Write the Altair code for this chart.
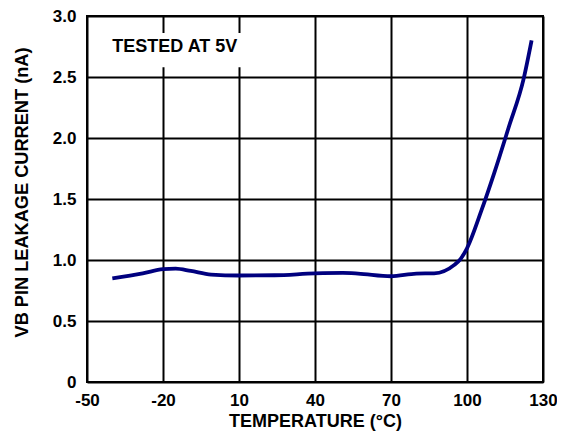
import altair as alt
import pandas as pd

temperature = [-40, -28, -20, -15, -9, -1, 10, 24, 40, 51, 57, 70, 80, 87, 95, 97.5, 100, 105.7, 110.8, 116.5, 122.3, 125.5]
leakage = [0.85, 0.89, 0.925, 0.93, 0.91, 0.88, 0.873, 0.875, 0.89, 0.894, 0.889, 0.867, 0.889, 0.891, 0.96, 1.01, 1.096, 1.406, 1.716, 2.09, 2.48, 2.8]

x_ticks = [-50, -20, 10, 40, 70, 100, 130]
y_ticks = [0, 0.5, 1.0, 1.5, 2.0, 2.5, 3.0]

note_text = ["TESTED AT 5V"]
note_x = [-40]
note_y = [2.75]
box_x = [-42]
box_x2 = [13]
box_y = [2.58]
box_y2 = [2.86]

FONT = "Liberation Sans"

df = pd.DataFrame({"t": temperature, "i": leakage})
note_df = pd.DataFrame({"label": note_text, "x": note_x, "y": note_y})
box_df = pd.DataFrame({"x": box_x, "x2": box_x2, "y": box_y, "y2": box_y2})

xscale = alt.Scale(domain=[-50, 130], nice=False)
yscale = alt.Scale(domain=[0, 3], nice=False)

x_axis = alt.Axis(values=x_ticks, title="TEMPERATURE (°C)", ticks=False, labelPadding=10,
                  labelExpr="datum.value < 0 ? '-' + abs(datum.value) : '' + datum.value",
                  labelFontSize=17, labelFont=FONT, labelFontWeight="bold", labelColor="black",
                  titleFontSize=18, titleFont=FONT, titleFontWeight="bold", titleColor="black",
                  titlePadding=4, grid=True, gridColor="black", gridWidth=2, gridOpacity=1,
                  domain=False, labelFlush=False, labelOverlap=False)
y_axis = alt.Axis(values=y_ticks, title="VB PIN LEAKAGE CURRENT (nA)", ticks=False, labelPadding=11,
                  labelExpr="datum.value == 0 ? '0' : format(datum.value, '.1f')",
                  labelFontSize=17, labelFont=FONT, labelFontWeight="bold", labelColor="black",
                  titleFontSize=18.2, titleFont=FONT, titleFontWeight="bold", titleColor="black",
                  titleX=-64.5, titleY=176, titleBaseline="middle", titleAlign="center", titleAngle=270,
                  grid=True, gridColor="black", gridWidth=2, gridOpacity=1,
                  domain=False, labelFlush=False, labelOverlap=False)

line = alt.Chart(df).mark_line(color="#00007f", strokeWidth=3.8, interpolate="monotone").encode(
    x=alt.X("t:Q", scale=xscale, axis=x_axis),
    y=alt.Y("i:Q", scale=yscale, axis=y_axis),
)

box = alt.Chart(box_df).mark_rect(color="white").encode(
    x=alt.X("x:Q", scale=xscale), x2="x2:Q",
    y=alt.Y("y:Q", scale=yscale), y2="y2:Q",
)

note = alt.Chart(note_df).mark_text(align="left", baseline="middle", font=FONT, fontSize=18,
                                    fontWeight="bold", color="black").encode(
    x=alt.X("x:Q", scale=xscale), y=alt.Y("y:Q", scale=yscale), text="label:N"
)

chart = alt.layer(box, line, note).properties(
    width=456, height=366,
    autosize=alt.AutoSizeParams(type="none"),
    padding={"left": 79, "top": 8, "right": 14, "bottom": 51},
    background="white",
).configure_view(stroke="black", strokeWidth=2)

chart.save("out.html", embed_options={"renderer": "svg", "actions": False})
